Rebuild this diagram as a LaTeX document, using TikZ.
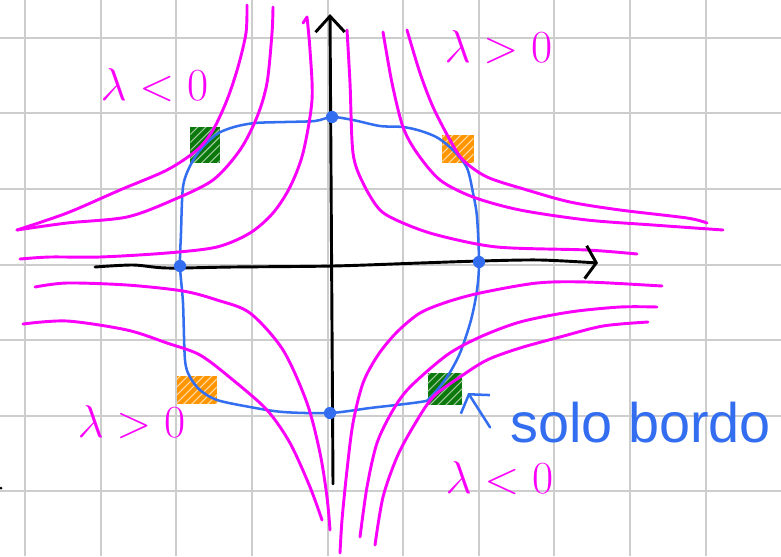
\documentclass[tikz,border=0pt]{standalone}
\usepackage{fontspec}
\newfontfamily\handfont{Liberation Sans}
\usetikzlibrary{arrows.meta, patterns}
\definecolor{hyper}{RGB}{250,0,250}
\definecolor{rim}{RGB}{52,110,240}
\definecolor{leaf}{RGB}{10,120,10}
\definecolor{amber}{RGB}{255,150,0}
\definecolor{sheet}{RGB}{205,205,205}

\begin{document}
\begin{tikzpicture}[x=0.013227cm, y=-0.013227cm,
    gridline/.style={sheet, line width=0.75pt},
    axis/.style={black, line width=1.1pt, line cap=round, line join=round},
    hyp/.style={hyper, line width=1.1pt, line cap=round, line join=round},
    rimline/.style={rim, line width=0.95pt, line cap=round},
    rimdot/.style={circle, fill=rim, inner sep=0pt, minimum size=4.6pt},
    patch/.style={rectangle, inner sep=0pt},
    lam/.style={hyper, inner sep=0pt, anchor=base west, font=\fontsize{17}{17}\selectfont},
    note/.style={rim, inner sep=0pt, anchor=base west, font=\fontsize{21}{21}\selectfont\handfont}
]

% ============ SHEET ============
\fill[white] (0,0) rectangle (781,556);
\useasboundingbox (0,0) rectangle (781,556);
\foreach \gx in {0,...,9}
  \draw[gridline] ({25.2+75.6*\gx},0) -- ({25.2+75.6*\gx},556);
\foreach \gy in {0,...,6}
  \draw[gridline] (0,{37.8+75.6*\gy}) -- (781,{37.8+75.6*\gy});
\fill (1,488) circle (1.5);

% ============ CORNER PATCHES ============
\node[patch, fill=leaf, minimum width=11pt, minimum height=13.5pt,
  postaction={pattern=north east lines, pattern color=leaf!40!white}] (sqTL) at (205,145) {};
\node[patch, fill=amber, minimum width=11.7pt, minimum height=10.5pt,
  postaction={pattern=north east lines, pattern color=amber!35!white}] (sqTR) at (458,149) {};
\node[patch, fill=amber, minimum width=15.4pt, minimum height=10.5pt,
  postaction={pattern=north east lines, pattern color=amber!35!white}] (sqBL) at (197,390) {};
\node[patch, fill=leaf, minimum width=13pt, minimum height=12pt,
  postaction={pattern=north east lines, pattern color=leaf!40!white}] (sqBR) at (445,389) {};

% ============ BOUNDARY ============
\draw[rimline] plot[smooth cycle, tension=0.5] coordinates {
  (180,266) (181,233) (183,187) (190,166) (201,149) (217,134) (234,127)
  (255,123) (285,122) (315,121) (332,117) (353,120) (380,126) (403,127)
  (421,131) (438,138) (454,151) (467,168) (473,193) (477,217) (479,262)
  (477,290) (471,320) (460,353) (447,377) (430,398) (420,402) (370,408)
  (330,413) (283,412) (250,407) (217,400) (200,390) (190,377) (185,360)
  (183,303)};

% ============ LEVEL CURVES ============
% top left
\draw[hyp] plot[smooth] coordinates {(247,5) (246,33) (238,67) (227,100)
  (213,130) (197,150) (167,170) (120,190) (67,213) (17,230)};
\draw[hyp] plot[smooth] coordinates {(273,7) (272,33) (267,83) (257,117)
  (240,150) (213,180) (173,200) (127,217) (67,223) (17,230)};
\draw[hyp] (303,23) -- plot[smooth] coordinates {(307,17) (310,50) (312,100)
  (303,153) (290,187) (273,213) (250,233) (217,247) (167,253) (100,257)
  (50,257) (20,259)};
% top right
\draw[hyp] plot[smooth] coordinates {(347,30) (350,83) (353,153) (363,183)
  (380,210) (403,223) (437,235) (497,247) (587,250) (637,254)};
\draw[hyp] plot[smooth] coordinates {(383,32) (392,83) (403,127) (417,153)
  (440,180) (473,197) (520,210) (587,220) (653,225) (723,230)};
\draw[hyp] plot[smooth] coordinates {(407,30) (420,73) (433,107) (450,140)
  (463,160) (487,177) (527,190) (570,202) (620,210) (687,218) (707,223)};
% bottom left
\draw[hyp] plot[smooth] coordinates {(35,287) (67,283) (127,285) (183,291)
  (217,300) (250,313) (283,350) (307,403) (320,453) (327,497) (330,530)};
\draw[hyp] plot[smooth] coordinates {(23,324) (67,321) (127,330) (167,343)
  (200,355) (233,380) (267,410) (290,443) (310,487) (322,520)};
% bottom right
\draw[hyp] plot[smooth] coordinates {(662,286) (587,282) (537,283) (480,293)
  (447,302) (420,313) (397,332) (378,355) (363,383) (353,423) (347,470)
  (342,520) (340,553)};
\draw[hyp] plot[smooth] coordinates {(657,307) (620,307) (570,312) (520,322)
  (480,337) (447,355) (410,387) (393,410) (377,443) (367,487) (360,537)};
\draw[hyp] plot[smooth] coordinates {(648,322) (603,326) (560,337) (520,348)
  (487,360) (460,377) (433,397) (413,427) (397,457) (383,497) (375,545)};

% ============ AXES ============
\draw[axis, -{Straight Barb[length=6pt, width=11pt]}] (333,484) -- (330,14);
\draw[axis, -{Straight Barb[length=4pt, width=12.4pt]}] plot[smooth] coordinates {
  (95,267) (133,265) (167,268) (233,267) (333,266) (420,263) (480,261)
  (540,260) (598,263)};

% ============ AXIS POINTS ============
\node[rimdot] (dotT) at (332,117) {};
\node[rimdot] (dotB) at (330,413) {};
\node[rimdot] (dotL) at (180,266) {};
\node[rimdot] (dotR) at (479,262) {};

% ============ LABELS ============
\node[lam] (lamTL) at (100,100) {$\lambda<0$};
\node[lam] (lamTR) at (444,62) {$\lambda>0$};
\node[lam] (lamBL) at (77,437) {$\lambda>0$};
\node[lam] (lamBR) at (445,493) {$\lambda<0$};
\node[note] (solo) at (510,442) {solo bordo};
\draw[rimline, -{Straight Barb[length=4.5pt, width=13pt]}]
  ([xshift=-7.5pt, yshift=-2pt]solo.west) -- ([xshift=2pt, yshift=-1.5pt]sqBR.east);

\end{tikzpicture}
\end{document}
